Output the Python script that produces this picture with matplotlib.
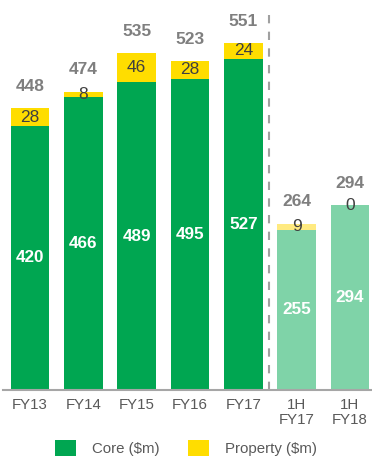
import matplotlib
matplotlib.use("Agg")
import matplotlib.pyplot as plt
from matplotlib.patches import Patch

plt.rcParams['font.family'] = ['Liberation Sans', 'DejaVu Sans']

# Earnings split by period
periods = ["FY13", "FY14", "FY15", "FY16", "FY17", "1H\nFY17", "1H\nFY18"]
core = [420, 466, 489, 495, 527, 255, 294]
prop = [28, 8, 46, 28, 24, 9, 0]
totals = [448, 474, 535, 523, 551, 264, 294]
half_year = [False, False, False, False, False, True, True]

GREEN = "#00A651"
YELLOW = "#FFDD00"
GREEN_LT = "#7FD3A8"
YELLOW_LT = "#FFEA80"

W, H = 372, 459
fig = plt.figure(figsize=(W / 100, H / 100), dpi=100)
base_y = 390
ax = fig.add_axes([3 / W, (H - base_y) / H, (W - 3) / W, base_y / H])

x = list(range(len(periods)))
step = 53.33
ax.set_xlim((3 - 30) / step, (W - 30) / step)
ax.set_ylim(0, base_y / 0.629)

for i in x:
    gc = GREEN_LT if half_year[i] else GREEN
    yc = YELLOW_LT if half_year[i] else YELLOW
    ax.bar(i, core[i], width=0.72, color=gc, linewidth=0)
    ax.bar(i, prop[i], bottom=core[i], width=0.72, color=yc, linewidth=0)
    ax.text(i, core[i] / 2, str(core[i]), ha="center", va="center",
            color="white", fontsize=12.3, fontweight="bold")
    ax.text(i, core[i] + prop[i] / 2, str(prop[i]), ha="center", va="center",
            color="#404040", fontsize=12.5)
    ax.annotate(str(totals[i]), (i, core[i] + prop[i]), xytext=(0, 15.8),
                textcoords="offset points", ha="center", va="center",
                color="#7F7F7F", fontsize=12.5, fontweight="bold")

# Separator between full-year and half-year results
ax.axvline(4.48, ymin=0, ymax=(base_y - 10) / base_y, color="#A0A0A0",
           linewidth=1.5, linestyle=(0, (4, 4)))

for s in ["top", "right", "left"]:
    ax.spines[s].set_visible(False)
ax.spines["bottom"].set_color("#A6A6A6")
ax.spines["bottom"].set_linewidth(1.5)
ax.set_yticks([])
ax.set_xticks(x)
ax.set_xticklabels(periods, fontsize=10.8, color="#595959", linespacing=1.05)
ax.tick_params(axis="x", length=0, pad=6.0)

handles = [Patch(facecolor=GREEN, label="Core ($m)"),
           Patch(facecolor=YELLOW, label="Property ($m)")]
fig.legend(handles=handles, loc="center", bbox_to_anchor=(186 / W, (H - 448) / H),
           ncol=2, frameon=False, fontsize=10.8, labelcolor="#595959",
           handlelength=1.4, handleheight=1.3, handletextpad=1.05,
           columnspacing=1.95, borderpad=0)

fig.savefig("out.png", dpi=100)
